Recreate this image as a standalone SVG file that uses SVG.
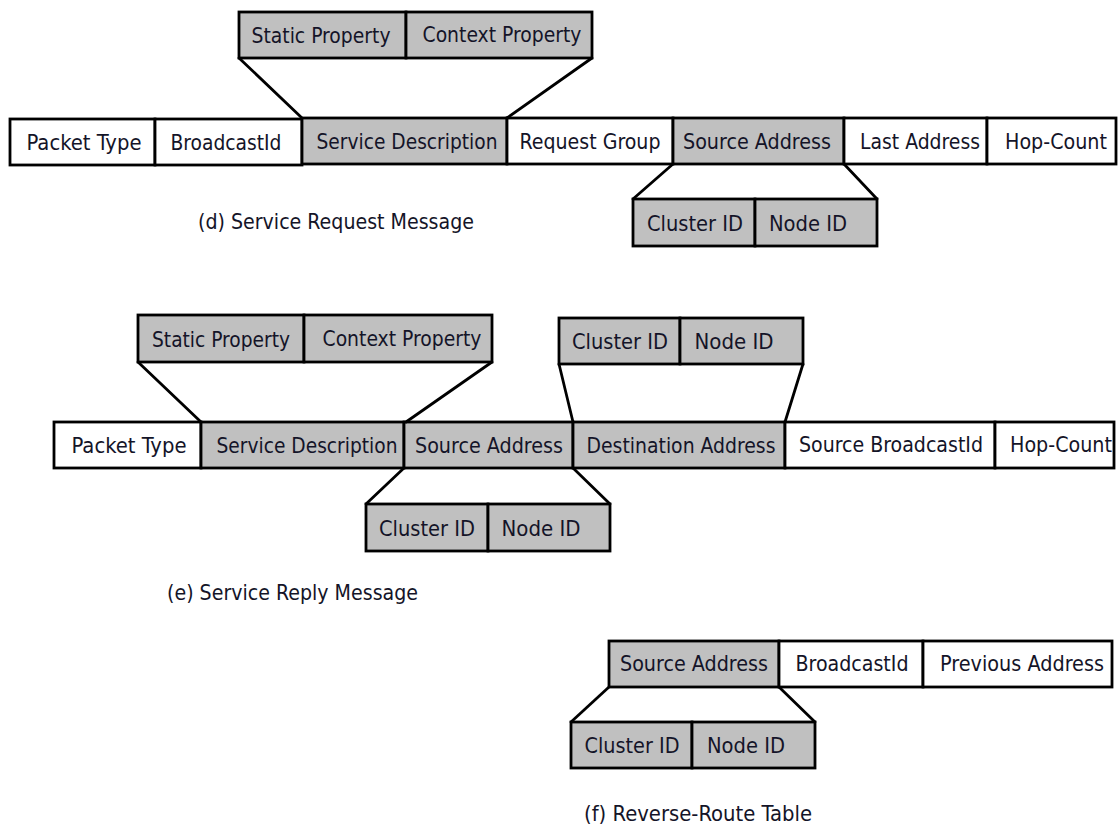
<svg xmlns="http://www.w3.org/2000/svg" width="1118" height="827" viewBox="0 0 1118 827">
<style>
.w{fill:#ffffff;stroke:#000;stroke-width:2.8}
.g{fill:#c0c0c0;stroke:#000;stroke-width:2.8}
text{font-family:"DejaVu Sans Condensed","DejaVu Sans",sans-serif;font-stretch:semi-condensed;font-size:22px;fill:#141428;text-anchor:middle}
.cap{text-anchor:start}
.c line{stroke:#000;stroke-width:2.8;stroke-linecap:round}
</style>
<rect width="1118" height="827" fill="#fff"/>

<!-- (d) Service Request Message -->
<g id="d-static"><rect class="g" x="239" y="12" width="167" height="46"/><text x="321" y="43" textLength="139" lengthAdjust="spacingAndGlyphs">Static Property</text></g>
<g id="d-context"><rect class="g" x="406" y="12" width="186" height="46"/><text x="502" y="42" textLength="159" lengthAdjust="spacingAndGlyphs">Context Property</text></g>
<g id="d-packettype"><rect class="w" x="10" y="119" width="145" height="46"/><text x="84" y="150" textLength="115" lengthAdjust="spacingAndGlyphs">Packet Type</text></g>
<g id="d-broadcastid"><rect class="w" x="155" y="119" width="147" height="46"/><text x="226" y="150" textLength="111" lengthAdjust="spacingAndGlyphs">BroadcastId</text></g>
<g id="d-servicedesc"><rect class="g" x="302" y="118" width="205" height="46"/><text x="407" y="149" textLength="181" lengthAdjust="spacingAndGlyphs">Service Description</text></g>
<g id="d-requestgroup"><rect class="w" x="507" y="118" width="166" height="46"/><text x="590" y="149" textLength="141" lengthAdjust="spacingAndGlyphs">Request Group</text></g>
<g id="d-sourceaddr"><rect class="g" x="673" y="118" width="171" height="46"/><text x="757" y="149" textLength="148" lengthAdjust="spacingAndGlyphs">Source Address</text></g>
<g id="d-lastaddr"><rect class="w" x="844" y="118" width="143" height="46"/><text x="920" y="149" textLength="120" lengthAdjust="spacingAndGlyphs">Last Address</text></g>
<g id="d-hopcount"><rect class="w" x="987" y="118" width="129" height="46"/><text x="1056" y="149" textLength="102" lengthAdjust="spacingAndGlyphs">Hop-Count</text></g>
<g id="d-clusterid"><rect class="g" x="633" y="199" width="122" height="47"/><text x="695" y="231" textLength="96" lengthAdjust="spacingAndGlyphs">Cluster ID</text></g>
<g id="d-nodeid"><rect class="g" x="755" y="199" width="122" height="47"/><text x="808" y="231" textLength="78" lengthAdjust="spacingAndGlyphs">Node ID</text></g>
<g id="d-caption"><text class="cap" x="198" y="229" textLength="276" lengthAdjust="spacingAndGlyphs">(d) Service Request Message</text></g>

<!-- (e) Service Reply Message -->
<g id="e-static"><rect class="g" x="138" y="315" width="166" height="47"/><text x="221" y="347" textLength="138" lengthAdjust="spacingAndGlyphs">Static Property</text></g>
<g id="e-context"><rect class="g" x="304" y="315" width="188" height="47"/><text x="402" y="346" textLength="159" lengthAdjust="spacingAndGlyphs">Context Property</text></g>
<g id="e-topcluster"><rect class="g" x="559" y="318" width="121" height="46"/><text x="620" y="349" textLength="96" lengthAdjust="spacingAndGlyphs">Cluster ID</text></g>
<g id="e-topnode"><rect class="g" x="680" y="318" width="123" height="46"/><text x="734" y="349" textLength="79" lengthAdjust="spacingAndGlyphs">Node ID</text></g>
<g id="e-packettype"><rect class="w" x="54" y="422" width="147" height="46"/><text x="129" y="453" textLength="115" lengthAdjust="spacingAndGlyphs">Packet Type</text></g>
<g id="e-servicedesc"><rect class="g" x="201" y="422" width="203" height="46"/><text x="307" y="453" textLength="181" lengthAdjust="spacingAndGlyphs">Service Description</text></g>
<g id="e-sourceaddr"><rect class="g" x="404" y="422" width="169" height="46"/><text x="489" y="453" textLength="148" lengthAdjust="spacingAndGlyphs">Source Address</text></g>
<g id="e-destaddr"><rect class="g" x="573" y="422" width="212" height="46"/><text x="681" y="453" textLength="189" lengthAdjust="spacingAndGlyphs">Destination Address</text></g>
<g id="e-srcbroadcast"><rect class="w" x="785" y="422" width="210" height="46"/><text x="891" y="452" textLength="184" lengthAdjust="spacingAndGlyphs">Source BroadcastId</text></g>
<g id="e-hopcount"><rect class="w" x="995" y="422" width="119" height="46"/><text x="1061" y="452" textLength="102" lengthAdjust="spacingAndGlyphs">Hop-Count</text></g>
<g id="e-botcluster"><rect class="g" x="366" y="504" width="122" height="47"/><text x="427" y="536" textLength="96" lengthAdjust="spacingAndGlyphs">Cluster ID</text></g>
<g id="e-botnode"><rect class="g" x="488" y="504" width="122" height="47"/><text x="541" y="536" textLength="79" lengthAdjust="spacingAndGlyphs">Node ID</text></g>
<g id="e-caption"><text class="cap" x="167" y="600" textLength="251" lengthAdjust="spacingAndGlyphs">(e) Service Reply Message</text></g>

<!-- (f) Reverse-Route Table -->
<g id="f-sourceaddr"><rect class="g" x="609" y="641" width="170" height="46"/><text x="694" y="671" textLength="148" lengthAdjust="spacingAndGlyphs">Source Address</text></g>
<g id="f-broadcastid"><rect class="w" x="779" y="641" width="144" height="46"/><text x="852" y="671" textLength="113" lengthAdjust="spacingAndGlyphs">BroadcastId</text></g>
<g id="f-prevaddr"><rect class="w" x="923" y="641" width="189" height="46"/><text x="1022" y="671" textLength="164" lengthAdjust="spacingAndGlyphs">Previous Address</text></g>
<g id="f-clusterid"><rect class="g" x="571" y="722" width="121" height="46"/><text x="632" y="753" textLength="95" lengthAdjust="spacingAndGlyphs">Cluster ID</text></g>
<g id="f-nodeid"><rect class="g" x="692" y="722" width="123" height="46"/><text x="746" y="753" textLength="78" lengthAdjust="spacingAndGlyphs">Node ID</text></g>
<g id="f-caption"><text class="cap" x="584" y="821" textLength="228" lengthAdjust="spacingAndGlyphs">(f) Reverse-Route Table</text></g>

<!-- connectors -->
<g id="connectors" class="c">
<line x1="239" y1="58" x2="302" y2="118"/>
<line x1="592" y1="58" x2="507" y2="118"/>
<line x1="673" y1="164" x2="633" y2="199"/>
<line x1="844" y1="164" x2="877" y2="199"/>
<line x1="138" y1="362" x2="201" y2="422"/>
<line x1="492" y1="362" x2="406" y2="422"/>
<line x1="559" y1="364" x2="573" y2="422"/>
<line x1="803" y1="364" x2="785" y2="422"/>
<line x1="404" y1="468" x2="366" y2="504"/>
<line x1="573" y1="468" x2="610" y2="504"/>
<line x1="609" y1="687" x2="571" y2="722"/>
<line x1="779" y1="687" x2="815" y2="722"/>
</g>
</svg>
